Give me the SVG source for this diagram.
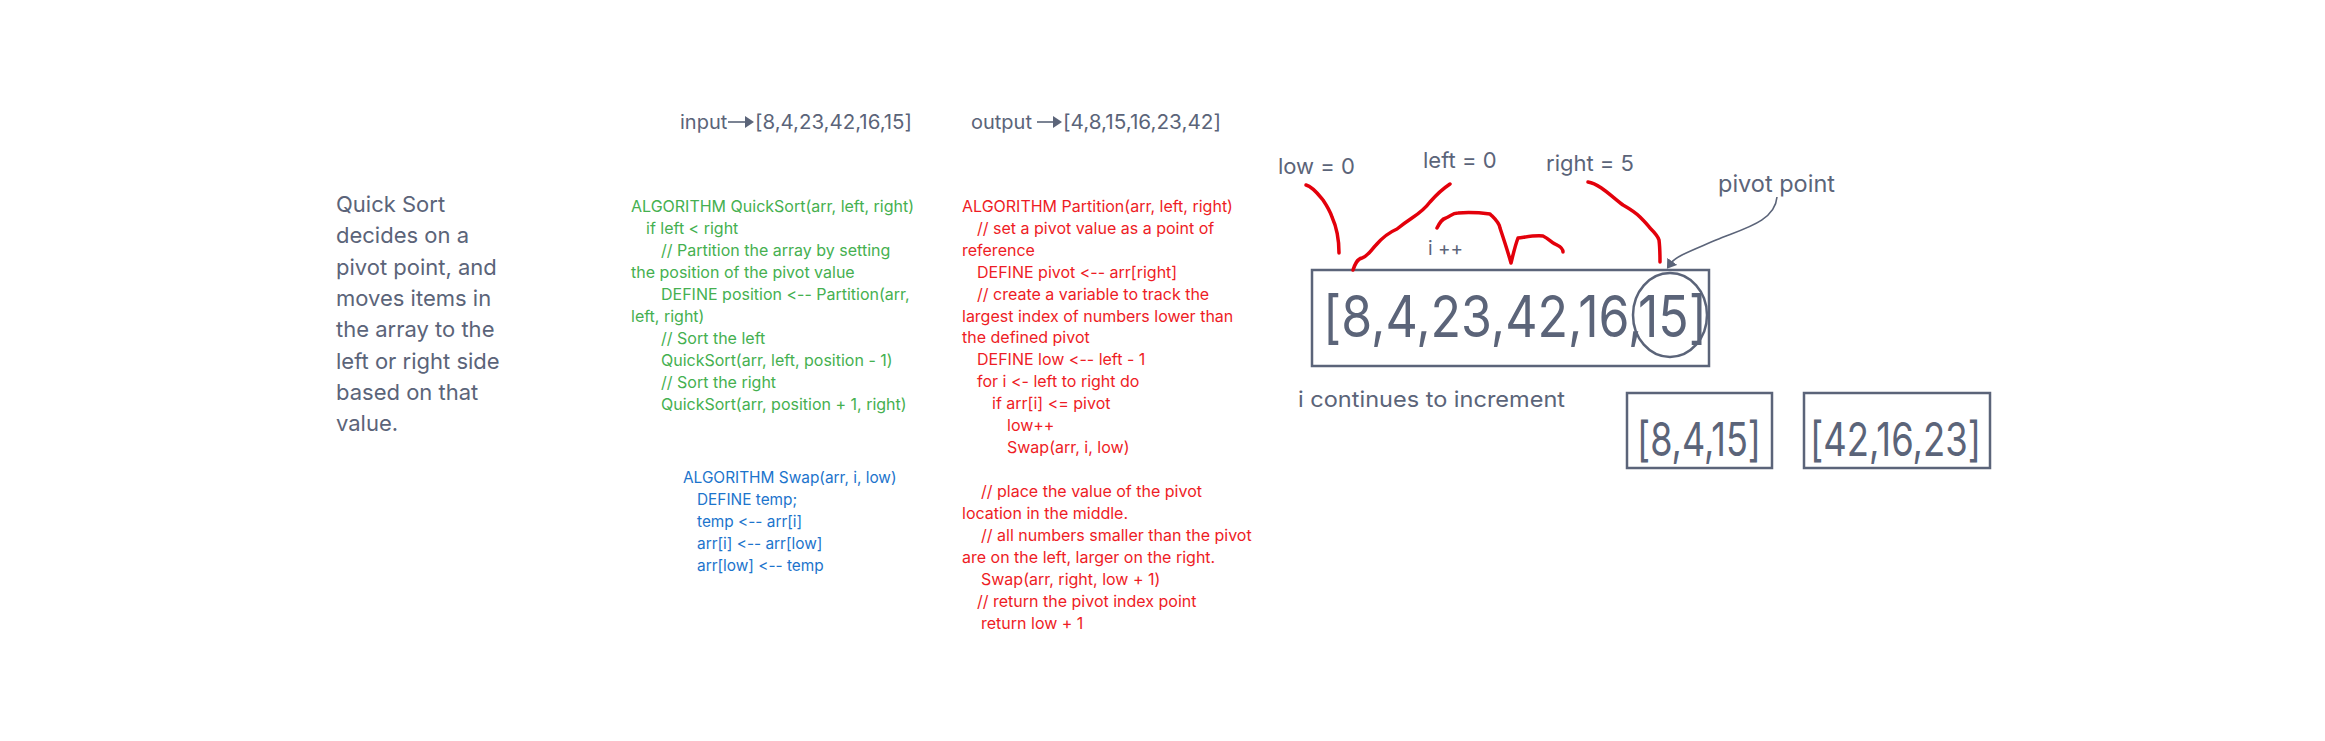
<svg xmlns="http://www.w3.org/2000/svg" width="2325" height="741" viewBox="0 0 2325 741">
<style>
text{font-family:Inter,"Noto Sans","Liberation Sans",sans-serif;font-variant-ligatures:none;font-feature-settings:"calt" 0,"liga" 0;}
.gray{fill:#5b6479;}
.green{fill:#45b050;font-size:16px;}
.red{fill:#ee1c25;font-size:16px;}
.blue{fill:#1c74cc;font-size:15.4px;}
.box{fill:none;stroke:#5b6479;stroke-width:2.5;}
.ink{fill:none;stroke:#e3000b;stroke-width:3.5;stroke-linecap:round;stroke-linejoin:round;}
.conn{fill:none;stroke:#5b6479;stroke-width:1.6;}
</style>
<defs>
<marker id="tri" markerWidth="10" markerHeight="12" refX="1" refY="6" orient="auto" markerUnits="userSpaceOnUse">
<path d="M0,0 L9,6 L0,12 Z" fill="#5b6479"/>
</marker>
<marker id="tri2" markerWidth="16" markerHeight="12" refX="2" refY="6" orient="auto" markerUnits="userSpaceOnUse">
<path d="M0,0 L9,6 L0,12 Z" fill="#5b6479"/>
</marker>
</defs>
<rect width="2325" height="741" fill="#ffffff"/>

<g id="description">
<text class="gray" font-size="22">
<tspan x="336" y="212">Quick Sort</tspan>
<tspan x="336" y="243.3">decides on a</tspan>
<tspan x="336" y="274.6">pivot point, and</tspan>
<tspan x="336" y="305.9">moves items in</tspan>
<tspan x="336" y="337.2">the array to the</tspan>
<tspan x="336" y="368.5">left or right side</tspan>
<tspan x="336" y="399.8">based on that</tspan>
<tspan x="336" y="431.1">value.</tspan>
</text>
</g>

<g id="input-line">
<text class="gray" font-size="20" x="680" y="129">input</text>
<text class="gray" font-size="20" x="755" y="129" textLength="157" lengthAdjust="spacingAndGlyphs">[8,4,23,42,16,15]</text>
</g>
<g id="output-line">
<text class="gray" font-size="20" x="971" y="129">output</text>
<text class="gray" font-size="20" x="1063" y="129" textLength="158" lengthAdjust="spacingAndGlyphs">[4,8,15,16,23,42]</text>
</g>

<g id="quicksort-code">
<text class="green">
<tspan x="631" y="211.7">ALGORITHM QuickSort(arr, left, right)</tspan>
<tspan x="646" y="233.7">if left &lt; right</tspan>
<tspan x="661" y="255.7">// Partition the array by setting</tspan>
<tspan x="631" y="277.7">the position of the pivot value</tspan>
<tspan x="661" y="299.7">DEFINE position &lt;-- Partition(arr,</tspan>
<tspan x="631" y="321.7">left, right)</tspan>
<tspan x="661" y="343.7">// Sort the left</tspan>
<tspan x="661" y="365.7">QuickSort(arr, left, position - 1)</tspan>
<tspan x="661" y="387.7">// Sort the right</tspan>
<tspan x="661" y="409.7">QuickSort(arr, position + 1, right)</tspan>
</text>
</g>

<g id="swap-code">
<text class="blue">
<tspan x="683" y="483.3">ALGORITHM Swap(arr, i, low)</tspan>
<tspan x="697" y="505.3">DEFINE temp;</tspan>
<tspan x="697" y="527.3">temp &lt;-- arr[i]</tspan>
<tspan x="697" y="549.3">arr[i] &lt;-- arr[low]</tspan>
<tspan x="697" y="571.3">arr[low] &lt;-- temp</tspan>
</text>
</g>

<g id="partition-code">
<text class="red">
<tspan x="962" y="211.7">ALGORITHM Partition(arr, left, right)</tspan>
<tspan x="977" y="233.6">// set a pivot value as a point of</tspan>
<tspan x="962" y="255.6">reference</tspan>
<tspan x="977" y="277.5">DEFINE pivot &lt;-- arr[right]</tspan>
<tspan x="977" y="299.5">// create a variable to track the</tspan>
<tspan x="962" y="321.5">largest index of numbers lower than</tspan>
<tspan x="962" y="343.4">the defined pivot</tspan>
<tspan x="977" y="365.4">DEFINE low &lt;-- left - 1</tspan>
<tspan x="977" y="387.3">for i &lt;- left to right do</tspan>
<tspan x="992" y="409.3">if arr[i] &lt;= pivot</tspan>
<tspan x="1007" y="431.3">low++</tspan>
<tspan x="1007" y="453.3">Swap(arr, i, low)</tspan>
<tspan x="981" y="497.2">// place the value of the pivot</tspan>
<tspan x="962" y="519.1">location in the middle.</tspan>
<tspan x="981" y="541.1">// all numbers smaller than the pivot</tspan>
<tspan x="962" y="563.1">are on the left, larger on the right.</tspan>
<tspan x="981" y="585">Swap(arr, right, low + 1)</tspan>
<tspan x="977" y="607">// return the pivot index point</tspan>
<tspan x="981" y="629">return low + 1</tspan>
</text>
</g>

<g id="array-box">
<rect class="box" x="1312" y="270" width="397" height="96"/>
<text class="gray" font-size="57" x="1323" y="337" textLength="384" lengthAdjust="spacingAndGlyphs">[8,4,23,42,16,15]</text>
<ellipse class="box" cx="1670" cy="315" rx="37" ry="42"/>
</g>

<g id="labels">
<text class="gray" font-size="22" x="1278" y="174">low = 0</text>
<text class="gray" font-size="22" x="1423" y="168">left = 0</text>
<text class="gray" font-size="22" x="1546" y="171">right = 5</text>
<text class="gray" font-size="19" x="1428" y="255">i ++</text>
<text class="gray" font-size="23.5" x="1718" y="192">pivot point</text>
<text class="gray" font-size="22" x="1298" y="407" textLength="267" lengthAdjust="spacingAndGlyphs">i continues to increment</text>
</g>

<g id="left-partition">
<rect class="box" x="1627" y="393" width="145" height="75"/>
<text class="gray" font-size="47" x="1637" y="456" textLength="124" lengthAdjust="spacingAndGlyphs">[8,4,15]</text>
</g>
<g id="right-partition">
<rect class="box" x="1804" y="393" width="186" height="75"/>
<text class="gray" font-size="47" x="1810" y="456" textLength="171" lengthAdjust="spacingAndGlyphs">[42,16,23]</text>
</g>

<g id="connectors">
<line class="conn" x1="728" y1="122" x2="746" y2="122" stroke-width="3" marker-end="url(#tri)"/>
<line class="conn" x1="1037" y1="122" x2="1054" y2="122" stroke-width="3" marker-end="url(#tri)"/>
<path class="conn" d="M1777,197 C1775,222 1742,229 1716,240 C1693,250 1676,256 1671,263" marker-end="url(#tri2)"/>
</g>

<g id="annotations">
<path class="ink" d="M1306,185 C1313,187 1318,194 1323,200 C1327,206 1330,211 1332,217 C1337,228 1339,240 1339,253"/>
<path class="ink" d="M1353,270 C1355,264 1357,259 1362,258 C1368,256 1371,250 1376,245 C1382,238 1390,232 1397,229 C1402,225 1406,222 1412,218 C1418,214 1424,210 1430,202 C1437,194 1444,188 1450,184"/>
<path class="ink" d="M1437,228 C1440,222 1442,219 1446,218 C1451,216 1452,213 1458,213 C1470,212 1482,213 1490,214 C1495,219 1499,222 1500,228 C1504,240 1508,252 1511,263 C1513,255 1515,246 1518,238 C1526,237 1535,235 1543,236 C1549,239 1553,244 1557,245 C1561,247 1563,250 1563,252"/>
<path class="ink" d="M1588,182 C1600,184 1612,197 1623,205 C1630,209 1636,213 1640,217 C1645,222 1647,224 1650,228 C1654,232 1658,236 1659,240 C1660,248 1660,255 1660,262"/>
</g>
</svg>
